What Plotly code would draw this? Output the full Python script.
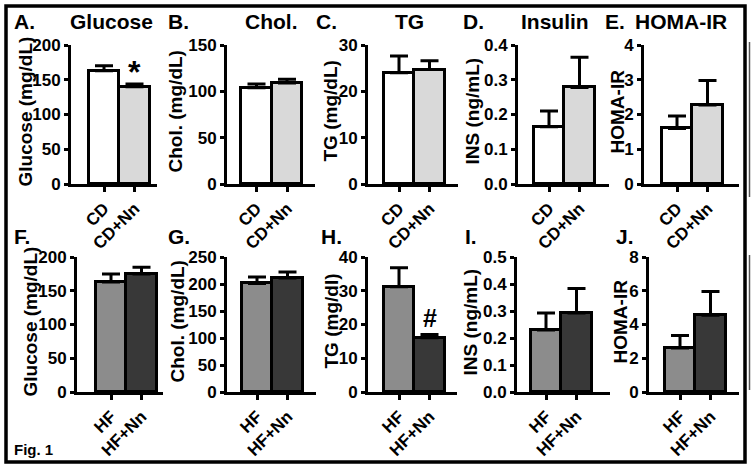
import plotly.graph_objects as go

W, H = 754, 469

# ---------------- data ----------------
cats_top = ["CD", "CD+Nn"]
cats_bot = ["HF", "HF+Nn"]

glucose_cd = [163, 140]
glucose_cd_sem = [7, 4]
chol_cd = [104, 109]
chol_cd_sem = [4, 4]
tg_cd = [24.0, 24.7]
tg_cd_sem = [3.6, 1.9]
ins_cd = [0.165, 0.278]
ins_cd_sem = [0.045, 0.087]
homa_cd = [1.6, 2.27]
homa_cd_sem = [0.36, 0.71]

glucose_hf = [163, 175]
glucose_hf_sem = [12, 10]
chol_hf = [201, 211]
chol_hf_sem = [12, 11]
tg_hf = [31.2, 16.1]
tg_hf_sem = [5.6, 0.9]
ins_hf = [0.23, 0.293]
ins_hf_sem = [0.063, 0.09]
homa_hf = [2.6, 4.55]
homa_hf_sem = [0.75, 1.4]

colors_top = ["#ffffff", "#d9d9d9"]
colors_bot = ["#8c8c8c", "#383838"]

FONT = "Liberation Sans, Arial, Helvetica, sans-serif"

# panel layout: (values, sem, cats, colors, yaxis px, xaxis end px, first bar center px, row,
#                ymax, dtick, decimals, ytitle, ytitle x px, letter, letter x px, title, title x px, mark)
panels = [
    (glucose_cd, glucose_cd_sem, cats_top, colors_top, 71, 157, 104, 0, 200, 50, 0, "Glucose (mg/dL)", 25, "A.", 12, "Glucose", 111, ("*", 1)),
    (chol_cd, chol_cd_sem, cats_top, colors_top, 227, 315, 256.5, 0, 150, 50, 0, "Chol. (mg/dL)", 175, "B.", 166, "Chol.", 271, None),
    (tg_cd, tg_cd_sem, cats_top, colors_top, 368, 458, 399, 0, 30, 10, 0, "TG (mg/dL)", 330, "C.", 314, "TG", 409, None),
    (ins_cd, ins_cd_sem, cats_top, colors_top, 518, 609, 549, 0, 0.4, 0.1, 1, "INS (ng/mL)", 472, "D.", 461, "Insulin", 555, None),
    (homa_cd, homa_cd_sem, cats_top, colors_top, 644, 739, 677, 0, 4, 1, 0, "HOMA-IR", 617, "E.", 603, "HOMA-IR", 681, None),
    (glucose_hf, glucose_hf_sem, cats_bot, colors_bot, 77, 163, 111, 1, 200, 50, 0, "Glucose (mg/dL)", 30, "F.", 12, None, 0, None),
    (chol_hf, chol_hf_sem, cats_bot, colors_bot, 227, 316, 257, 1, 250, 50, 0, "Chol. (mg/dL)", 177, "G.", 166, None, 0, None),
    (tg_hf, tg_hf_sem, cats_bot, colors_bot, 368, 457, 399, 1, 40, 10, 0, "TG (mg/dl)", 331, "H.", 319, None, 0, ("#", 1)),
    (ins_hf, ins_hf_sem, cats_bot, colors_bot, 517, 610, 546, 1, 0.5, 0.1, 1, "INS (ng/mL)", 470, "I.", 463, None, 0, None),
    (homa_hf, homa_hf_sem, cats_bot, colors_bot, 649, 739, 680, 1, 8, 2, 0, "HOMA-IR", 620, "J.", 614, None, 0, None),
]

ROWS = [(45, 184), (257, 392)]  # (top px, zero px)
UNIT = 30.5

def px(x):
    return x / W

def py(y):
    return 1 - y / H

fig = go.Figure()
annotations = []

for i, (vals, sem, cats, cols, ax_px, end_px, c0, row, ymax, dtick, dec, ytitle, yt_x, letter, lx, title, tx, mark) in enumerate(panels):
    n = i + 1
    xa = "x" if n == 1 else f"x{n}"
    ya = "y" if n == 1 else f"y{n}"
    for j in range(2):
        fig.add_trace(go.Bar(
            x=[cats[j]], y=[vals[j]], width=1,
            marker=dict(color=cols[j], line=dict(color="black", width=3)),
            error_y=dict(type="data", array=[sem[j]], arrayminus=[0], symmetric=False,
                         thickness=3, width=9, color="black"),
            xaxis=xa, yaxis=ya, showlegend=False, hoverinfo="skip",
        ))
    top, zero = ROWS[row]
    lo = (ax_px - c0) / UNIT
    hi = (end_px - c0) / UNIT
    nt = int(round(ymax / dtick))
    yvals = [k * dtick for k in range(nt + 1)]
    ytext = [f"<b>{v:.{dec}f}</b>" for v in yvals]
    xkey = "xaxis" if n == 1 else f"xaxis{n}"
    ykey = "yaxis" if n == 1 else f"yaxis{n}"
    fig.layout[xkey] = dict(
        domain=[px(ax_px), px(end_px)], anchor=ya, type="category",
        categoryorder="array", categoryarray=cats,
        tickmode="array", tickvals=cats, ticktext=[f"<b>{c}</b>" for c in cats],
        range=[lo, hi], showline=True, linewidth=3, linecolor="black",
        ticks="outside", ticklen=5, tickwidth=3, tickcolor="black",
        tickangle=-45, showgrid=False, zeroline=False,
        tickfont=dict(family=FONT, size=17, color="black"),
    )
    fig.layout[ykey] = dict(
        domain=[py(zero), py(top)], anchor=xa, range=[0, ymax],
        tickmode="array", tickvals=yvals, ticktext=ytext,
        showline=True, linewidth=3, linecolor="black",
        ticks="outside", ticklen=4, tickwidth=3, tickcolor="black",
        showgrid=False, zeroline=False, ticklabelstandoff=0,
        tickfont=dict(family=FONT, size=17, color="black"),
    )
    annotations.append(dict(
        text=f"<b>{ytitle}</b>", textangle=-90, xref="paper", yref="paper",
        x=px(yt_x), y=py((top + zero) / 2 - 3), showarrow=False,
        font=dict(family=FONT, size=19, color="black"), xanchor="center", yanchor="middle",
    ))
    ly = 22 if row == 0 else 236
    annotations.append(dict(
        text=f"<b>{letter}</b>", xref="paper", yref="paper", x=px(lx), y=py(ly),
        showarrow=False, xanchor="left", yanchor="middle",
        font=dict(family=FONT, size=21, color="black"),
    ))
    if title:
        annotations.append(dict(
            text=f"<b>{title}</b>", xref="paper", yref="paper", x=px(tx), y=py(ly),
            showarrow=False, xanchor="center", yanchor="middle",
            font=dict(family=FONT, size=21, color="black"),
        ))
    if mark:
        sym, k = mark
        annotations.append(dict(
            text=f"<b>{sym}</b>", xref=xa, yref=ya, x=cats[k], y=vals[k] + sem[k],
            showarrow=False, xanchor="center", yanchor="bottom",
            yshift=(-8 if sym == "*" else 1),
            font=dict(family=FONT, size=(32 if sym == "*" else 25), color="black"),
        ))

annotations.append(dict(
    text="<b>Fig. 1</b>", xref="paper", yref="paper", x=px(12), y=py(449),
    showarrow=False, xanchor="left", yanchor="middle",
    font=dict(family=FONT, size=15, color="black"),
))

shapes = [
    dict(type="rect", xref="paper", yref="paper",
         x0=px(6), x1=px(745), y0=py(462), y1=py(6),
         line=dict(color="black", width=3.5)),
    dict(type="line", xref="paper", yref="paper",
         x0=px(749.5), x1=px(749.5), y0=py(42), y1=py(197),
         line=dict(color="#555555", width=1.5)),
    dict(type="line", xref="paper", yref="paper",
         x0=px(749.5), x1=px(749.5), y0=py(255), y1=py(390),
         line=dict(color="#555555", width=1.5)),
]

fig.update_layout(
    width=W, height=H, template="none",
    margin=dict(l=0, r=0, t=0, b=0),
    paper_bgcolor="white", plot_bgcolor="rgba(0,0,0,0)",
    barmode="overlay", bargap=0,
    annotations=annotations,
    shapes=shapes,
)

fig.write_html(
    "out.html",
    config={"displayModeBar": False},
    post_script="document.body.style.margin='0';document.body.style.overflow='hidden';",
)
